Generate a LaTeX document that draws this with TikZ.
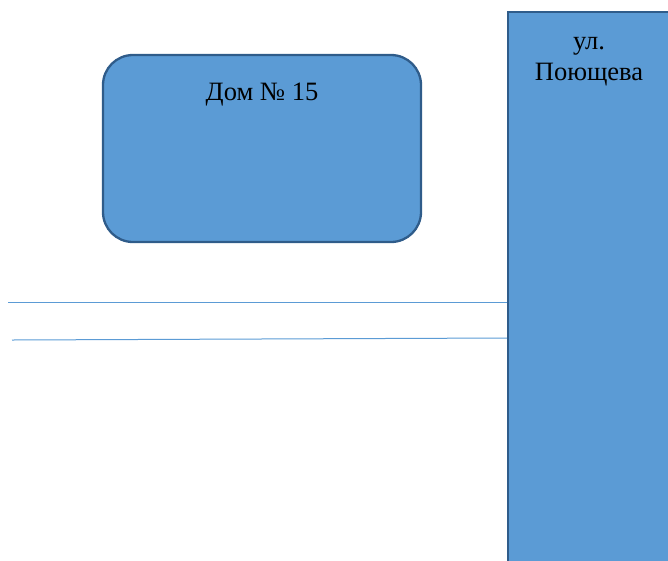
\documentclass[tikz,border=0pt]{standalone}
\usepackage{fontspec}
\setmainfont{Liberation Serif}
\definecolor{boxfill}{HTML}{5B9BD5}
\definecolor{boxedge}{HTML}{2F5C8A}
\definecolor{linecol}{HTML}{5B9BD5}
\begin{document}
\begin{tikzpicture}[x=1pt,y=-1pt,
  shape box/.style={draw=boxedge, fill=boxfill, line width=2.3pt, inner sep=0pt},
  roadline/.style={draw=linecol, line width=1pt},
  lbl/.style={font=\fontsize{26.5}{31}\selectfont, align=center, inner sep=0pt}]
\useasboundingbox (0,0) rectangle (668,560);
\node[shape box, rounded corners=30pt, minimum width=318pt, minimum height=187pt] (house) at (262,148.5) {};
\node[lbl, anchor=base] (housetext) at (262,100) {Дом № 15};
\node[shape box, minimum width=180pt, minimum height=570pt] (street) at (598,297) {};
\node[lbl, anchor=base] (streettext) at (589,80) {ул.\\Поющева};
\coordinate (l1) at (8,302);
\coordinate (l2) at (12,340);
\draw[roadline] (l1) -- (street.west |- l1);
\draw[roadline] (l2) -- ([yshift=2pt]street.west |- l2);
\end{tikzpicture}
\end{document}
